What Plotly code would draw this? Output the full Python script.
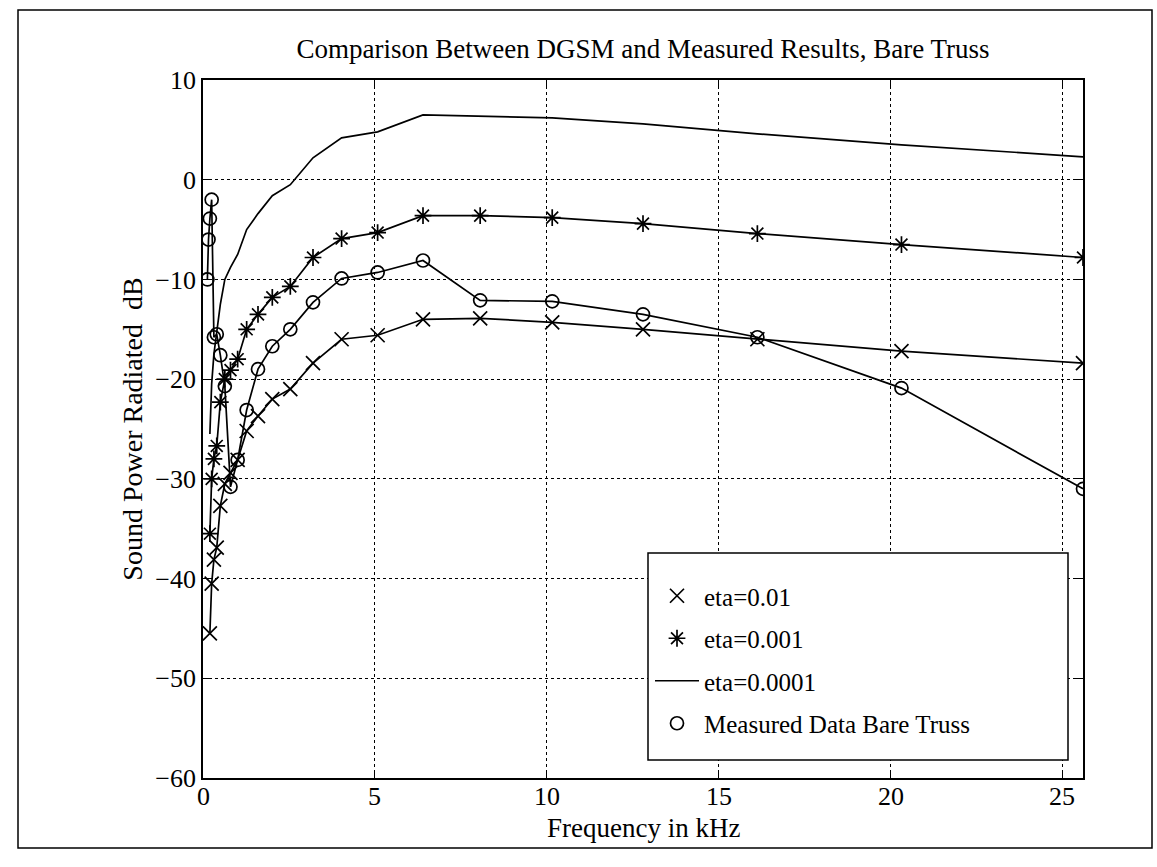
import plotly.graph_objects as go

# DGSM frequencies (kHz)
freq_dgsm = [0.2, 0.252, 0.317, 0.4, 0.504, 0.635, 0.8, 1.008, 1.27, 1.6, 2.016,
             2.54, 3.2, 4.032, 5.08, 6.4, 8.063, 10.159, 12.8, 16.127, 20.319, 25.6]
eta_001 = [-45.5, -40.5, -38.1, -36.9, -32.7, -30.5, -29.4, -28.1, -25.2, -23.7, -22.0,
           -21.0, -18.4, -16.0, -15.6, -14.0, -13.9, -14.3, -15.0, -16.0, -17.2, -18.4]
eta_0001 = [-35.5, -30.0, -28.0, -26.7, -22.3, -20.0, -19.1, -18.0, -15.0, -13.5, -11.8,
            -10.7, -7.8, -5.9, -5.3, -3.6, -3.6, -3.8, -4.4, -5.4, -6.5, -7.8]
eta_00001 = [-25.5, -20.5, -17.5, -15.5, -12.5, -10.0, -8.8, -7.5, -5.0, -3.4, -1.6,
             -0.5, 2.2, 4.2, 4.8, 6.5, 6.4, 6.2, 5.6, 4.6, 3.5, 2.3]

# Measured data
freq_meas = [0.127, 0.16, 0.2, 0.252, 0.317, 0.4, 0.504, 0.635, 0.8, 1.008, 1.27, 1.6,
             2.016, 2.54, 3.2, 4.032, 5.08, 6.4, 8.063, 10.159, 12.8, 16.127, 20.319, 25.6]
meas = [-10.0, -6.0, -3.9, -2.0, -15.8, -15.5, -17.6, -20.7, -30.8, -28.1, -23.1, -19.0,
        -16.7, -15.0, -12.3, -9.9, -9.3, -8.1, -12.1, -12.2, -13.5, -15.8, -20.9, -31.0]

title_text = "Comparison Between DGSM and Measured Results, Bare Truss"
x_title = "Frequency in kHz"
y_title = "Sound Power Radiated  dB"
x_ticks = [0, 5, 10, 15, 20, 25]
x_tick_labels = ["0", "5", "10", "15", "20", "25"]
y_ticks = [-60, -50, -40, -30, -20, -10, 0, 10]

FONT = "Liberation Serif"
LW = 1.7

# plot-area geometry in pixels
L, R, T, B = 203, 1083, 80, 778
W, H = R - L, B - T


def px(xp):
    return (xp - L) / W


def py(yp):
    return (B - yp) / H


fig = go.Figure()
# connecting lines (no legend)
for xs, ys in [(freq_dgsm, eta_001), (freq_dgsm, eta_0001), (freq_meas, meas)]:
    fig.add_trace(go.Scatter(x=xs, y=ys, mode="lines", line=dict(color="black", width=LW),
                             showlegend=False, hoverinfo="skip"))
# legend / marker traces
fig.add_trace(go.Scatter(x=freq_dgsm, y=eta_001, mode="markers", name="eta=0.01",
                         legendgroup="a",
                         marker=dict(symbol="x-thin-open", size=14, color="black",
                                     line=dict(color="black", width=1.7))))
fig.add_trace(go.Scatter(x=freq_dgsm, y=eta_0001, mode="markers", name="eta=0.001",
                         legendgroup="b",
                         marker=dict(symbol="asterisk-open", size=14, color="black",
                                     line=dict(color="black", width=1.7))))
fig.add_trace(go.Scatter(x=freq_dgsm, y=eta_00001, mode="lines", name="eta=0.0001",
                         legendgroup="c",
                         line=dict(color="black", width=LW)))
fig.add_trace(go.Scatter(x=freq_meas, y=meas, mode="markers", name="Measured Data Bare Truss",
                         legendgroup="d",
                         marker=dict(symbol="circle-open", size=13, color="black",
                                     line=dict(color="black", width=1.7))))

axis_common = dict(
    showline=True, linecolor="black", linewidth=1.6, mirror="ticks",
    ticks="inside", ticklen=8, tickwidth=1.3, tickcolor="black",
    showgrid=True, gridcolor="black", griddash="dot", gridwidth=1,
    zeroline=False, tickfont=dict(family=FONT, size=26, color="black"),
)

annotations = [dict(text=x_title, xref="paper", yref="paper",
                    x=0.5, xanchor="center", y=py(828), yanchor="middle",
                    showarrow=False, font=dict(family=FONT, size=27, color="black"))]
# x tick labels placed just under the axis (inside ticks, MATLAB style)
for v, lab in zip(x_ticks, x_tick_labels):
    annotations.append(dict(text=lab, xref="x", yref="paper", x=v, xanchor="center",
                            y=py(796), yanchor="middle", showarrow=False,
                            font=dict(family=FONT, size=26, color="black")))

fig.update_layout(
    width=1157, height=867,
    margin=dict(l=L, r=1157 - R, t=T, b=867 - B),
    paper_bgcolor="white", plot_bgcolor="white",
    font=dict(family=FONT, size=26, color="black"),
    title=dict(text=title_text, x=0.5, xref="paper", xanchor="center",
               y=1 - 49 / 867, yref="container", yanchor="middle",
               font=dict(family=FONT, size=27, color="black")),
    xaxis=dict(range=[0, 25.6], tickvals=x_ticks, showticklabels=False,
               **axis_common),
    yaxis=dict(range=[-60, 10], tickvals=y_ticks,
               title=dict(text=y_title, standoff=5, font=dict(family=FONT, size=28)),
               **axis_common),
    legend=dict(x=px(650), xanchor="left", y=py(573), yanchor="top",
                bgcolor="rgba(0,0,0,0)", borderwidth=0,
                font=dict(family=FONT, size=25, color="black"),
                tracegroupgap=7, itemwidth=44),
    annotations=annotations,
    shapes=[
        # outer frame
        dict(type="rect", xref="paper", yref="paper",
             x0=px(18), x1=px(1152), y0=py(848), y1=py(10),
             line=dict(color="black", width=1.5), fillcolor="rgba(0,0,0,0)",
             layer="below"),
        # legend box
        dict(type="rect", xref="paper", yref="paper",
             x0=px(648), x1=px(1068), y0=py(760), y1=py(553),
             line=dict(color="black", width=1.5), fillcolor="white",
             layer="above"),
    ],
)

fig.write_html("out.html", config={"displayModeBar": False},
               post_script="document.body.style.margin='0px';document.body.style.overflow='hidden';")
